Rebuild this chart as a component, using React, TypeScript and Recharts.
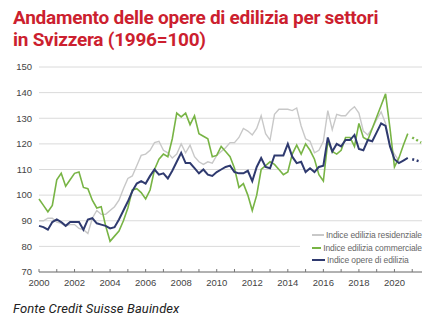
import React from 'react';
import { LineChart, Line, XAxis, YAxis, CartesianGrid, Legend } from 'recharts';

// Quarterly index values, 2000 Q1 onwards (1996 = 100)
const startYear = 2000;

const residenziale = [
  90, 90, 91, 91, 89.5, 89, 88, 88.5, 88.5, 87, 86.5, 85, 91, 94, 92.5, 92.5,
  94, 95.5, 98, 102.5, 106.5, 107.5, 111.5, 115.5, 116, 117.5, 120.5, 121, 117.5, 116.5, 114.5, 116,
  120, 116.5, 119.5, 115, 113, 112, 113, 112.5, 115.5, 117, 118.5, 120.5, 120.5, 122.5, 126, 125,
  123.5, 126, 131, 124, 121.5, 131.5, 133.5, 133.5, 133.5, 133, 134, 127, 122, 121, 116.5, 117.5,
  121, 133, 125.5, 131.5, 131, 131, 133, 134.5, 132, 125, 123.5, 126, 129.5, 132.5, 128, 119,
  116, 113.5,
];

const commerciale = [
  98.5, 96, 93.5, 96, 106, 108.5, 103.5, 106, 108.5, 109, 103, 102.5, 98, 95, 95.5, 88,
  82, 84, 86, 90, 95, 102, 102.5, 101, 98.5, 102, 110, 114, 116, 115, 122, 132,
  130.5, 132, 127.5, 131, 124, 123, 122, 115, 115.5, 119, 117, 115, 110.5, 103, 104.5, 100,
  94, 100, 110, 111.5, 113, 112, 110, 108, 109, 116, 119.5, 116, 120, 117.5, 114, 108,
  105.5, 121, 117, 116, 117.5, 122.5, 122.5, 119, 128, 122.5, 121.5, 126, 130.5, 135, 139.5, 126,
  111, 114.5, 119.5, 124,
];

const opere = [
  88, 87.5, 86.5, 89.5, 90.5, 89.5, 88, 89.5, 89.5, 89.5, 86.5, 90.5, 91, 89, 88.5, 88,
  87, 87.5, 90.5, 94, 97.5, 101.5, 104.5, 105.5, 104.5, 107.5, 110, 108, 108.5, 106.5, 109.5, 113,
  116.5, 112.5, 112.5, 110.5, 108.5, 110, 108, 107.5, 109, 110, 111, 111.5, 109, 108.5, 108.5, 109.5,
  105.5, 111, 114.5, 111, 110.5, 115.5, 115.5, 115.5, 120, 115, 112.5, 113, 109, 110.5, 109, 111,
  111.5, 122.5, 117, 120, 119, 121.5, 121.5, 123.5, 118, 117.5, 121.5, 121, 124.5, 128, 127, 119,
  114, 112.5, 113.5, 114.5,
];

// Forecast (dotted)
const forecastYears = [2021, 2021.5];
const commercialeForecast = [122.5, 120.5];
const opereForecast = [114, 113];

const yTicks = [70, 80, 90, 100, 110, 120, 130, 140, 150];
const xTicks = [
  2000, 2001, 2002, 2003, 2004, 2005, 2006, 2007, 2008, 2009, 2010,
  2011, 2012, 2013, 2014, 2015, 2016, 2017, 2018, 2019, 2020, 2021,
];

const GREY = '#c8c8c8';
const GREEN = '#78b445';
const NAVY = '#2f3a6f';

const legendItems = [
  { label: 'Indice edilizia residenziale', color: GREY },
  { label: 'Indice edilizia commerciale', color: GREEN },
  { label: 'Indice opere di edilizia', color: NAVY },
];

const data = [
  ...opere.map((v, i) => ({
    year: startYear + i / 4,
    residenziale: residenziale[i] ?? null,
    commerciale: commerciale[i],
    opere: v,
  })),
  ...forecastYears.map((y, i) => ({
    year: y,
    commercialeF: commercialeForecast[i],
    opereF: opereForecast[i],
  })),
];

const TICK_MARGIN = 7;

function YearTick(props: any) {
  const { x, y, payload } = props;
  const axisY = y - TICK_MARGIN;
  const showLabel = payload.value % 2 === 0;
  return (
    <g>
      <line x1={x} x2={x} y1={axisY} y2={axisY - 3} stroke="#777" strokeWidth={1} />
      {showLabel && (
        <text x={x} y={y} dy="0.71em" textAnchor="middle" fill="#444" fontSize={9.5}
          fontFamily="'Liberation Sans', Arial, sans-serif">
          {payload.value}
        </text>
      )}
    </g>
  );
}

function ChartLegend() {
  return (
    <div style={{ background: '#fff', padding: '2px 0' }}>
      {legendItems.map((item) => (
        <div key={item.label} style={{ display: 'flex', alignItems: 'center', height: 12.5 }}>
          <span style={{ display: 'inline-block', width: 13, height: 2, background: item.color, marginLeft: 12 }} />
          <span style={{
            marginLeft: 2,
            fontSize: 8.5,
            color: '#666',
            fontFamily: "'Liberation Sans Narrow', 'Liberation Sans', Arial, sans-serif",
            letterSpacing: -0.1,
            whiteSpace: 'nowrap',
          }}>
            {item.label}
          </span>
        </div>
      ))}
    </div>
  );
}

export default function App() {
  return (
    <div style={{ position: 'absolute', left: 0, top: 0, width: 443, height: 333, background: '#fff', overflow: 'hidden' }}>
      <div style={{
        position: 'absolute', left: 13, top: 7,
        fontFamily: 'Roboto, sans-serif', fontWeight: 700, fontSize: 19, lineHeight: '22px',
        color: '#cc1f2f', letterSpacing: -0.25,
      }}>
        Andamento delle opere di edilizia per settori<br />
        in Svizzera (1996=100)
      </div>

      <div style={{ position: 'absolute', left: 0, top: 55 }}>
        <LineChart width={443} height={240} data={data} margin={{ top: 12, right: 21, bottom: 0, left: 0 }}>
          <CartesianGrid horizontal vertical={false} stroke="#dadada" />
          <XAxis
            dataKey="year"
            type="number"
            domain={[2000, 2021.55]}
            ticks={xTicks}
            interval={0}
            height={23}
            tickSize={0}
            tickMargin={TICK_MARGIN}
            tickLine={false}
            axisLine={{ stroke: '#777', strokeWidth: 1 }}
            tick={<YearTick />}
          />
          <YAxis
            domain={[70, 150]}
            ticks={yTicks}
            width={39}
            tickSize={0}
            tickMargin={7}
            axisLine={false}
            tickLine={false}
            tick={{ fill: '#444', fontSize: 9.5, fontFamily: "'Liberation Sans', Arial, sans-serif" }}
          />
          <Legend
            layout="vertical"
            align="center"
            verticalAlign="middle"
            content={() => <ChartLegend />}
            wrapperStyle={{ left: 300, top: 172, width: 122 }}
          />
          <Line dataKey="residenziale" stroke={GREY} strokeWidth={1.4} dot={false} isAnimationActive={false} />
          <Line dataKey="commerciale" stroke={GREEN} strokeWidth={1.6} dot={false} isAnimationActive={false} />
          <Line dataKey="opere" stroke={NAVY} strokeWidth={2} dot={false} isAnimationActive={false} />
          <Line dataKey="commercialeF" stroke={GREEN} strokeWidth={2.5} strokeDasharray="2 2.6" dot={false} isAnimationActive={false} />
          <Line dataKey="opereF" stroke={NAVY} strokeWidth={2.5} strokeDasharray="2 2.6" dot={false} isAnimationActive={false} />
        </LineChart>
      </div>

      <div style={{
        position: 'absolute', left: 13, top: 302,
        fontFamily: 'Roboto, sans-serif', fontStyle: 'italic', fontSize: 13, lineHeight: '14px',
        color: '#222', letterSpacing: 0.1,
      }}>
        Fonte Credit Suisse Bauindex
      </div>
    </div>
  );
}
